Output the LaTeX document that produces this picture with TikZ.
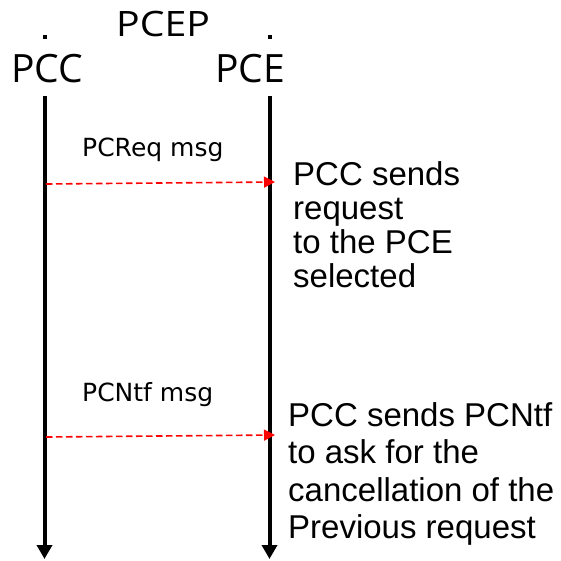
\documentclass[tikz,border=0pt]{standalone}
\usepackage{fontspec}
\setmainfont{Open Sans}
\newfontfamily\notefont{Liberation Sans}
\newfontfamily\labelfont{DejaVu Sans}
\usetikzlibrary{arrows.meta,positioning}
\tikzset{
x=1pt, y=1pt,
lifeline/.style={line width=4pt, -{Triangle[length=14pt,width=15pt]}},
message/.style={red, line width=1.6pt, dash pattern=on 6.5pt off 3.5pt,
  -{Triangle[length=11pt,width=11pt]}},
actor/.style={inner sep=0pt, anchor=base west, font=\fontsize{39}{39}\selectfont},
msglabel/.style={inner sep=0pt, anchor=base west, font=\labelfont\fontsize{25}{25}\selectfont},
note/.style={inner sep=0pt, anchor=north west, align=left},
}

\begin{document}
\begin{tikzpicture}
        \useasboundingbox (0,0) rectangle (561,-561);

        % actors
        \node[actor] (pcc) at (11,-83) {PCC};
        \node[actor] (pce) at (215,-83) {PCE};
        \node[actor, font=\fontsize{35}{35}\selectfont, xscale=1.12, transform shape] (pcep) at (116,-37) {PCEP};
        \fill (42.5,-39.5) rectangle ++(4,4);
        \fill (267.5,-39.5) rectangle ++(4,4);

        % lifelines
        \coordinate (pcctop) at (44.5,-96);
        \coordinate (pccend) at (44.5,-559);
        \coordinate (pcetop) at (269.5,-96);
        \coordinate (pceend) at (269.5,-559);
        \draw[lifeline] (pcctop) -- (pccend);
        \draw[lifeline] (pcetop) -- (pceend);

        % messages
        \coordinate (req0) at (46,-184);
        \coordinate (req1) at (275,-182);
        \coordinate (ntf0) at (46,-437);
        \coordinate (ntf1) at (275,-435);
        \draw[message] (req0) -- (req1);
        \draw[message] (ntf0) -- (ntf1);
        \node[msglabel] (reqlabel) at (82,-157) {PCReq msg};
        \node[msglabel] (ntflabel) at (82,-401) {PCNtf msg};

        % notes
        \node[note, font=\notefont\fontsize{33}{34}\selectfont] (reqnote) at (293,-161.5)
          {PCC sends\\request\\to the PCE\\selected};
        \node[note, font=\notefont\fontsize{33}{37.2}\selectfont] (ntfnote) at (288,-402.5)
          {PCC sends PCNtf\\to ask for the\\cancellation of the\\Previous request};
    \end{tikzpicture}
\end{document}
